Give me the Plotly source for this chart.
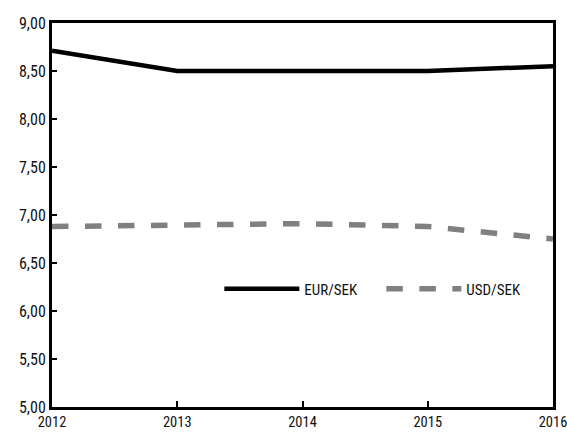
import plotly.graph_objects as go

years = [2012, 2013, 2014, 2015, 2016]
eur_sek = [8.71, 8.50, 8.50, 8.50, 8.55]
usd_sek = [6.88, 6.89, 6.91, 6.88, 6.75]
y_ticks = [5.0, 5.5, 6.0, 6.5, 7.0, 7.5, 8.0, 8.5, 9.0]
y_labels = [f"{v:.2f}".replace(".", ",") for v in y_ticks]

FONT = "Liberation Sans Narrow, Arial Narrow, Roboto Condensed, DejaVu Sans Condensed, sans-serif"

fig = go.Figure()
fig.add_trace(go.Scatter(x=years, y=eur_sek, mode="lines", name="EUR/SEK",
                         line=dict(color="#000000", width=4.5)))
fig.add_trace(go.Scatter(x=years, y=usd_sek, mode="lines", name="USD/SEK",
                         line=dict(color="#808080", width=5.5, dash="dash")))

fig.update_layout(
    width=567, height=434,
    margin=dict(l=52, r=14, t=23, b=27),
    paper_bgcolor="white", plot_bgcolor="white",
    font=dict(family=FONT, size=16, color="#111111"),
    legend=dict(orientation="h", x=0.334, y=0.307, xanchor="left", yanchor="middle",
                bgcolor="rgba(0,0,0,0)", font=dict(size=15), itemwidth=75,
                entrywidth=72, entrywidthmode="pixels", tracegroupgap=0),
    showlegend=True,
)
fig.update_xaxes(range=[2012, 2016], tickvals=years, ticktext=[str(y) for y in years],
                 tickfont=dict(size=14.5),
                 showline=True, linecolor="black", linewidth=3, mirror=True,
                 ticks="inside", ticklen=6, tickwidth=2, tickcolor="black",
                 showgrid=False, zeroline=False, automargin=False,
                 ticklabeloverflow="allow", ticklabelstandoff=0)
fig.update_yaxes(range=[5, 9], tickvals=y_ticks, ticktext=y_labels,
                 showline=True, linecolor="black", linewidth=3, mirror=True,
                 ticks="inside", ticklen=5, tickwidth=2, tickcolor="black",
                 showgrid=False, zeroline=False, automargin=False)

fig.write_html("out.html", config={"displayModeBar": False},
               post_script="document.body.style.margin='0';document.body.style.overflow='hidden';")
